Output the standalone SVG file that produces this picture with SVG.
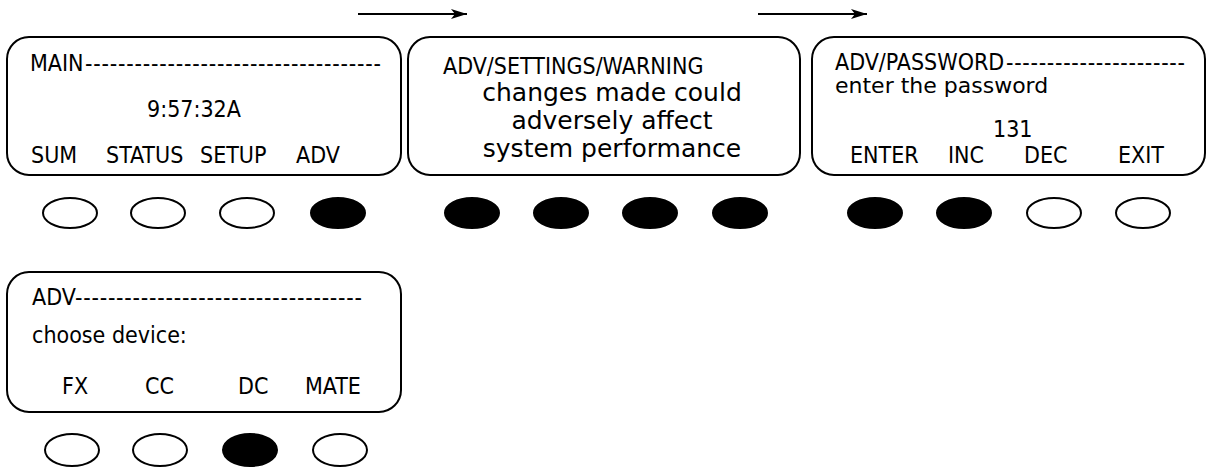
<svg xmlns="http://www.w3.org/2000/svg" width="1208" height="470" viewBox="0 0 1208 470">
<style>
.box{fill:#fff;stroke:#000;stroke-width:2}
.btn{fill:#fff;stroke:#000;stroke-width:2}
.on{fill:#000;stroke:#000;stroke-width:2}
.c{font-family:"DejaVu Sans Condensed","DejaVu Sans",sans-serif;font-stretch:condensed;font-size:23px;fill:#000}
.w{font-family:"DejaVu Sans",sans-serif;font-size:25px;fill:#000}
.p{font-family:"DejaVu Sans",sans-serif;font-size:22px;fill:#000}
.cn{stroke:#000;stroke-width:2;fill:none}
</style>
<defs>
<marker id="ah" viewBox="0 0 16 10" refX="16" refY="5" markerWidth="16" markerHeight="10" markerUnits="userSpaceOnUse" orient="auto">
<path d="M0,0 L16,5 L0,10 L4,5 Z" fill="#000"/>
</marker>
</defs>
<g id="connectors">
<line class="cn" x1="358" y1="14" x2="467" y2="14" marker-end="url(#ah)"/>
<line class="cn" x1="758" y1="14" x2="867" y2="14" marker-end="url(#ah)"/>
</g>
<g id="main">
<rect class="box" x="7" y="37" width="394" height="138" rx="22"/>
<text class="c" x="30" y="71">MAIN</text>
<text class="c" x="85" y="71" textLength="296" lengthAdjust="spacing">------------------------------------</text>
<text class="c" x="147" y="117">9:57:32A</text>
<text class="c" x="31" y="163">SUM</text>
<text class="c" x="106" y="163">STATUS</text>
<text class="c" x="200" y="163">SETUP</text>
<text class="c" x="296" y="163">ADV</text>
<ellipse class="btn" cx="70" cy="213" rx="27" ry="15"/>
<ellipse class="btn" cx="158" cy="213" rx="27" ry="15"/>
<ellipse class="btn" cx="247" cy="213" rx="27" ry="15"/>
<ellipse class="on" cx="338" cy="213" rx="27" ry="15"/>
</g>
<g id="warning">
<rect class="box" x="408" y="37" width="392" height="138" rx="22"/>
<text class="c" x="443" y="74">ADV/SETTINGS/WARNING</text>
<text class="w" x="612" y="101" text-anchor="middle">changes made could</text>
<text class="w" x="612" y="129" text-anchor="middle">adversely affect</text>
<text class="w" x="612" y="157" text-anchor="middle">system performance</text>
<ellipse class="on" cx="472" cy="213" rx="27" ry="15"/>
<ellipse class="on" cx="561" cy="213" rx="27" ry="15"/>
<ellipse class="on" cx="650" cy="213" rx="27" ry="15"/>
<ellipse class="on" cx="740" cy="213" rx="27" ry="15"/>
</g>
<g id="password">
<rect class="box" x="812" y="37" width="393" height="138" rx="22"/>
<text class="c" x="835" y="70">ADV/PASSWORD</text>
<text class="c" x="1006" y="70" textLength="179" lengthAdjust="spacing">----------------------</text>
<text class="p" x="835" y="93">enter the password</text>
<text class="c" x="993" y="137">131</text>
<text class="c" x="850" y="163">ENTER</text>
<text class="c" x="948" y="163">INC</text>
<text class="c" x="1024" y="163">DEC</text>
<text class="c" x="1118" y="163">EXIT</text>
<ellipse class="on" cx="875" cy="213" rx="27" ry="15"/>
<ellipse class="on" cx="964" cy="213" rx="27" ry="15"/>
<ellipse class="btn" cx="1054" cy="213" rx="27" ry="15"/>
<ellipse class="btn" cx="1143" cy="213" rx="27" ry="15"/>
</g>
<g id="adv">
<rect class="box" x="7" y="272" width="394" height="140" rx="22"/>
<text class="c" x="32" y="305">ADV</text>
<text class="c" x="75" y="305" textLength="287" lengthAdjust="spacing">-----------------------------------</text>
<text class="c" x="32" y="343">choose device:</text>
<text class="c" x="62" y="394">FX</text>
<text class="c" x="145" y="394">CC</text>
<text class="c" x="238" y="394">DC</text>
<text class="c" x="305" y="394">MATE</text>
<ellipse class="btn" cx="72" cy="450" rx="27" ry="16"/>
<ellipse class="btn" cx="160" cy="450" rx="27" ry="16"/>
<ellipse class="on" cx="250" cy="450" rx="27" ry="16"/>
<ellipse class="btn" cx="340" cy="450" rx="27" ry="16"/>
</g>
</svg>
